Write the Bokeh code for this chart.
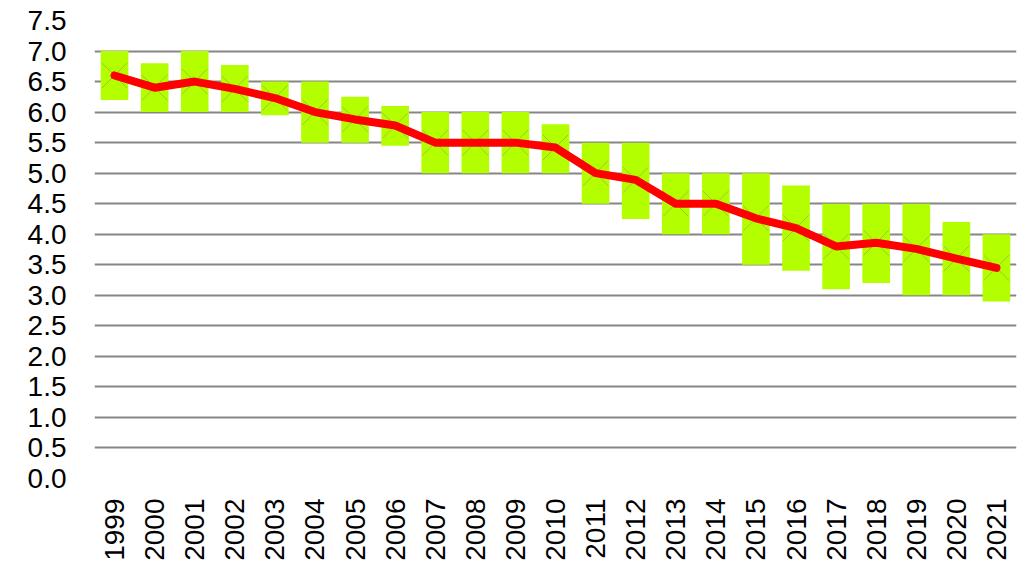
import math
from bokeh.plotting import figure
from bokeh.models import Range1d, FactorRange, FixedTicker, NumeralTickFormatter, ColumnDataSource
from bokeh.embed import file_html
from bokeh.resources import INLINE

years = [str(y) for y in range(1999, 2022)]
low = [6.2, 6.0, 6.0, 6.0, 5.95, 5.5, 5.5, 5.45, 5.0, 5.0, 5.0, 5.0, 4.5, 4.25,
       4.0, 4.0, 3.5, 3.4, 3.1, 3.2, 3.0, 3.0, 2.9]
high = [7.0, 6.8, 7.0, 6.77, 6.5, 6.5, 6.25, 6.1, 6.0, 6.0, 6.0, 5.8, 5.5, 5.5,
        5.0, 5.0, 5.0, 4.8, 4.5, 4.5, 4.5, 4.2, 4.0]
mid = [6.6, 6.4, 6.5, 6.38, 6.23, 6.0, 5.88, 5.78, 5.5, 5.5, 5.5, 5.42, 5.0, 4.89,
       4.5, 4.5, 4.26, 4.1, 3.8, 3.86, 3.76, 3.6, 3.45]
y_ticks = [i * 0.5 for i in range(16)]

src = ColumnDataSource(dict(x=years, low=low, high=high, mid=mid))

FONT = "Liberation Sans"

p = figure(frame_width=922, frame_height=458,
           x_range=FactorRange(factors=years, range_padding=0),
           y_range=Range1d(0, 7.5), output_backend="svg", toolbar_location=None,
           min_border_left=94, min_border_right=4, min_border_top=20, min_border_bottom=80)
p.outline_line_color = None
p.background_fill_color = "white"
p.border_fill_color = "white"

p.xgrid.grid_line_color = None
p.ygrid.grid_line_color = "#868686"
p.ygrid.grid_line_width = 2

p.yaxis.ticker = FixedTicker(ticks=y_ticks)
p.yaxis.formatter = NumeralTickFormatter(format="0.0")
for ax in (p.xaxis[0], p.yaxis[0]):
    ax.axis_line_color = None
    ax.major_tick_line_color = None
    ax.minor_tick_line_color = None
    ax.major_tick_out = 0
    ax.major_tick_in = 0
    ax.major_label_text_font = FONT
    ax.major_label_text_font_size = "28px"
    ax.major_label_text_color = "black"
p.yaxis.major_label_standoff = 28
p.xaxis.major_label_standoff = 20
p.xaxis.major_label_orientation = math.pi / 2

p.vbar(x="x", bottom="low", top="high", width=0.69, source=src,
       fill_color="#B3FF00", line_color=None)
p.scatter(x="x", y="mid", marker="x", size=36, source=src,
          line_color="#808080", line_alpha=0.45, line_width=1)
p.line(x="x", y="mid", source=src, line_color="#FF0000", line_width=8,
       line_join="round", line_cap="round")

open("out.html", "w").write(file_html(p, INLINE))
